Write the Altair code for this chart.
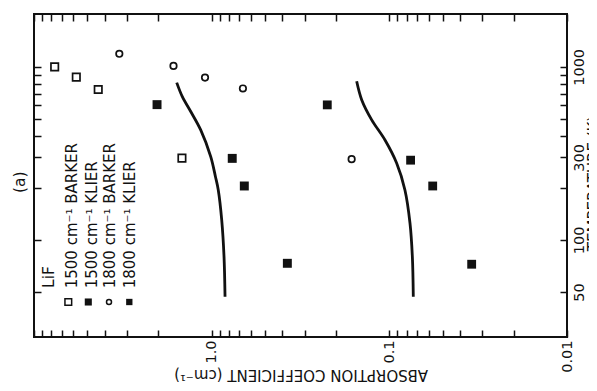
import altair as alt
import pandas as pd

# ---------------- data ----------------
# temperature (K) and absorption coefficient (cm^-1)
barker1500_T = [1000, 872, 740, 297]
barker1500_A = [7.65, 5.78, 4.35, 1.47]

barker1800_T = [1190, 1013, 867, 750, 293]
barker1800_A = [3.31, 1.64, 1.09, 0.667, 0.163]

klier1500_T = [605, 296, 205, 73.3]
klier1500_A = [2.03, 0.766, 0.655, 0.375]

klier1800_T = [603, 289, 205, 72.4]
klier1800_A = [0.2235, 0.0759, 0.0570, 0.0344]

curve1500_T = [811, 673, 552, 432, 303, 232, 194.5, 130.5, 80.1, 47]
curve1500_A = [1.573, 1.463, 1.312, 1.153, 1.0125, 0.952, 0.918, 0.878, 0.852, 0.841]

curve1800_T = [825, 644, 494, 378, 277.5, 194.5, 124.9, 80.1, 47]
curve1800_A = [0.1527, 0.143, 0.1257, 0.1058, 0.0909, 0.0817, 0.0765, 0.0742, 0.0733]

legend_title = "LiF"
legend_labels = ["1500 cm⁻¹  BARKER", "1500 cm⁻¹  KLIER", "1800 cm⁻¹  BARKER", "1800 cm⁻¹  KLIER"]
panel_label = "(a)"

x_ticks = [round(k * 10 ** e, 4) for e in (-2, -1, 0) for k in range(1, 10)] + [10]
y_ticks = [50, 100, 200, 300, 400, 500, 600, 700, 800, 900, 1000]

x_title = "ABSORPTION  COEFFICIENT  (cm⁻¹)"
y_title = "TEMPERATURE (K)"

# ---------------- styling ----------------
FONT = "DejaVu Sans"
INK = "#111111"
W, H = 533, 323

xs = alt.Scale(type="log", domain=[0.01, 10], reverse=True, nice=False)
ys = alt.Scale(type="log", domain=[27.5, 2020], nice=False)

axis_bottom = alt.Axis(
    orient="bottom", values=x_ticks,
    labelExpr="datum.value == 0.01 ? '0.01' : datum.value == 0.1 ? '0.1' : datum.value == 1 ? '1.0' : ''",
    labelAngle=270, labelAlign="right", labelBaseline="middle", labelPadding=3,
    labelFlush=False, labelOverlap=False, labelFont=FONT, labelFontSize=14.5, labelColor=INK,
    tickSize=7, tickWidth=1.5, tickColor=INK, domain=False, grid=False, offset=-7,
    title=x_title, titleAngle=180, titleFont=FONT, titleFontSize=15, titleFontWeight="normal",
    titleColor=INK, titleX=W / 2, titleY=44, titleAlign="center", titleBaseline="middle",
)
axis_top = alt.Axis(
    orient="top", values=x_ticks, labels=False, tickSize=7, tickWidth=1.5, tickColor=INK,
    domain=False, grid=False, offset=-7, title="",
)
axis_right = alt.Axis(
    orient="right", values=y_ticks,
    labelExpr="datum.value == 50 || datum.value == 100 || datum.value == 300 || datum.value == 1000 ? datum.value : ''",
    labelAngle=270, labelAlign="center", labelBaseline="top", labelPadding=5,
    labelFlush=False, labelOverlap=False, labelFont=FONT, labelFontSize=14.5, labelColor=INK,
    tickSize=7, tickWidth=1.5, tickColor=INK, domain=False, grid=False, offset=-7,
    title=y_title, titleAngle=270, titleFont=FONT, titleFontSize=15, titleFontWeight="normal",
    titleColor=INK, titleX=26, titleY=169, titleAlign="center", titleBaseline="top",
)
axis_left = alt.Axis(
    orient="left", values=y_ticks, labels=False, tickSize=7, tickWidth=1.5, tickColor=INK,
    domain=False, grid=False, offset=-7, title="",
)


def df(T, A):
    return pd.DataFrame({"T": T, "A": A})


def curve(T, A, xaxis, yaxis):
    return alt.Chart(df(T, A)).mark_line(
        color=INK, strokeWidth=2.8, interpolate="catmull-rom"
    ).encode(
        x=alt.X("A:Q", scale=xs, axis=xaxis),
        y=alt.Y("T:Q", scale=ys, axis=yaxis),
        order=alt.Order("T:Q"),
    )


def points(T, A, shape, filled, size):
    return alt.Chart(df(T, A)).mark_point(
        shape=shape, filled=filled, size=size, color=INK, strokeWidth=1.7, opacity=1
    ).encode(
        x=alt.X("A:Q", scale=xs, axis=None),
        y=alt.Y("T:Q", scale=ys, axis=None),
    )


def text_at(label, px, py, size):
    return alt.Chart(pd.DataFrame({"label": [label]})).mark_text(
        angle=270, align="left", baseline="middle", font=FONT, fontSize=size, color=INK
    ).encode(x=alt.value(px), y=alt.value(py), text="label:N")


def symbol_at(px, py, shape, filled, size):
    return alt.Chart(pd.DataFrame({"k": [0]})).mark_point(
        shape=shape, filled=filled, size=size, color=INK, strokeWidth=1.5, opacity=1
    ).encode(x=alt.value(px), y=alt.value(py))


layers = [
    curve(curve1500_T, curve1500_A, axis_bottom, axis_right),
    curve(curve1800_T, curve1800_A, axis_top, axis_left),
    points(barker1500_T, barker1500_A, "square", False, 55),
    points(klier1500_T, klier1500_A, "square", True, 80),
    points(barker1800_T, barker1800_A, "circle", False, 42),
    points(klier1800_T, klier1800_A, "square", True, 78),
    text_at(legend_title, 14.5, 274, 15.5),
    text_at(panel_label, -14, 179, 15.5),
]

leg_text_x = [37.7, 57.7, 76, 96]
leg_sym_x = [34.3, 54.3, 75, 95.3]
leg_shapes = [("square", False, 45), ("square", True, 50), ("circle", False, 25), ("square", True, 40)]
for lab, tx, sx, (shp, fil, sz) in zip(legend_labels, leg_text_x, leg_sym_x, leg_shapes):
    layers.append(text_at(lab, tx, 274.3, 15))
    layers.append(symbol_at(sx, 288, shp, fil, sz))

chart = alt.layer(*layers).resolve_axis(
    x="independent", y="independent"
).properties(
    width=W, height=H,
    autosize=alt.AutoSizeParams(type="none"),
    padding={"left": 26, "top": 6, "right": 22, "bottom": 50},
    background="white",
).configure_view(stroke=INK, strokeWidth=2)

chart.save("out.html", embed_options={"renderer": "svg", "actions": False})
